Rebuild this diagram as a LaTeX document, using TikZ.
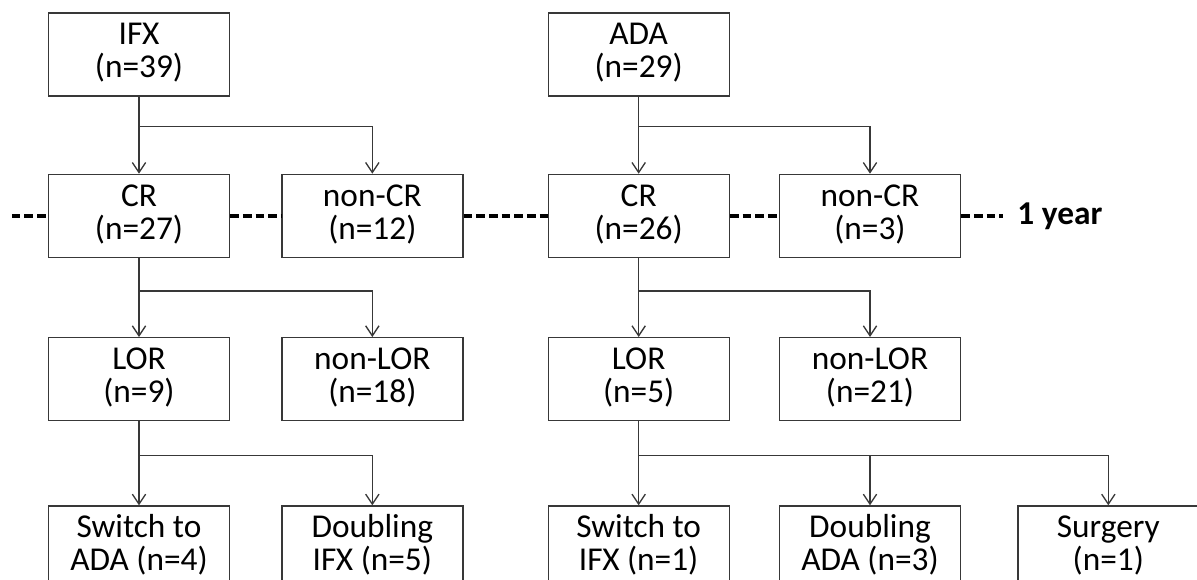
\documentclass[tikz,border=0pt]{standalone}
\usepackage{fontspec}
\setmainfont{Carlito}
\usetikzlibrary{arrows.meta, positioning}
\definecolor{framegray}{RGB}{56, 56, 56}

\begin{document}
\begin{tikzpicture}[
        box/.style={rectangle, draw=framegray, line width=1pt, minimum width=135.75pt, minimum height=62.25pt, inner sep=0pt, text height=44pt, text depth=8.8pt, align=center, font=\fontsize{25}{24.75}\selectfont},
        yearlabel/.style={inner sep=0pt, font=\fontsize{25}{25}\selectfont\bfseries},
        arrow/.style={-{Straight Barb[length=7.5pt, width=10pt]}, line width=1pt, draw=framegray},
        yeardash/.style={line width=2.6pt, dash pattern=on 6.5pt off 3pt}
    ]
        \path[use as bounding box, clip] (-104.25pt,40.875pt) rectangle ++(897.75pt,-434.25pt);

        % Row 1
        \node (ifx) [box] {IFX\\(n=39)};
        \node (ada) [box, right=238pt of ifx] {ADA\\(n=29)};

        % Row 2
        \node (crifx) [box, below=57.75pt of ifx] {CR\\(n=27)};
        \node (noncrifx) [box, right=38.25pt of crifx] {non-CR\\(n=12)};
        \node (crada) [box, below=57.75pt of ada] {CR\\(n=26)};
        \node (noncrada) [box, right=36.75pt of crada] {non-CR\\(n=3)};
        \node (year) [yearlabel, right=42pt of noncrada] {1 year};

        % Row 3
        \node (lorifx) [box, below=59.25pt of crifx] {LOR\\(n=9)};
        \node (nonlorifx) [box, right=38.25pt of lorifx] {non-LOR\\(n=18)};
        \node (lorada) [box, below=59.25pt of crada] {LOR\\(n=5)};
        \node (nonlorada) [box, right=36.75pt of lorada] {non-LOR\\(n=21)};

        % Row 4
        \node (switchada) [box, below=63pt of lorifx] {Switch to\\ADA (n=4)};
        \node (doubleifx) [box, right=38.25pt of switchada] {Doubling\\IFX (n=5)};
        \node (switchifx) [box, below=63pt of lorada] {Switch to\\IFX (n=1)};
        \node (doubleada) [box, right=36.75pt of switchifx] {Doubling\\ADA (n=3)};
        \node (surgery) [box, right=42pt of doubleada] {Surgery\\(n=1)};

        % Split points
        \coordinate (ifxsplit) at ([yshift=-22.5pt]ifx.south);
        \coordinate (adasplit) at ([yshift=-22.5pt]ada.south);
        \coordinate (crifxsplit) at ([yshift=-24.75pt]crifx.south);
        \coordinate (cradasplit) at ([yshift=-24.75pt]crada.south);
        \coordinate (lorifxsplit) at ([yshift=-25.5pt]lorifx.south);
        \coordinate (loradasplit) at ([yshift=-25.5pt]lorada.south);
        \coordinate (dashstart) at ([xshift=-27pt]crifx.west);

        % 1 year line
        \draw [yeardash] (dashstart) -- (crifx);
        \draw [yeardash] (crifx) -- (noncrifx);
        \draw [yeardash] (noncrifx) -- (crada);
        \draw [yeardash] (crada) -- (noncrada);
        \draw [yeardash, shorten >=10.5pt] (noncrada) -- (year);

        % Connecting Arrows
        \draw [arrow] (ifx) -- (crifx);
        \draw [arrow] (ifxsplit) -| (noncrifx);
        \draw [arrow] (ada) -- (crada);
        \draw [arrow] (adasplit) -| (noncrada);
        \draw [arrow] (crifx) -- (lorifx);
        \draw [arrow] (crifxsplit) -| (nonlorifx);
        \draw [arrow] (crada) -- (lorada);
        \draw [arrow] (cradasplit) -| (nonlorada);
        \draw [arrow] (lorifx) -- (switchada);
        \draw [arrow] (lorifxsplit) -| (doubleifx);
        \draw [arrow] (lorada) -- (switchifx);
        \draw [arrow] (loradasplit) -| (doubleada);
        \draw [arrow] (loradasplit) -| (surgery);
    \end{tikzpicture}
\end{document}
